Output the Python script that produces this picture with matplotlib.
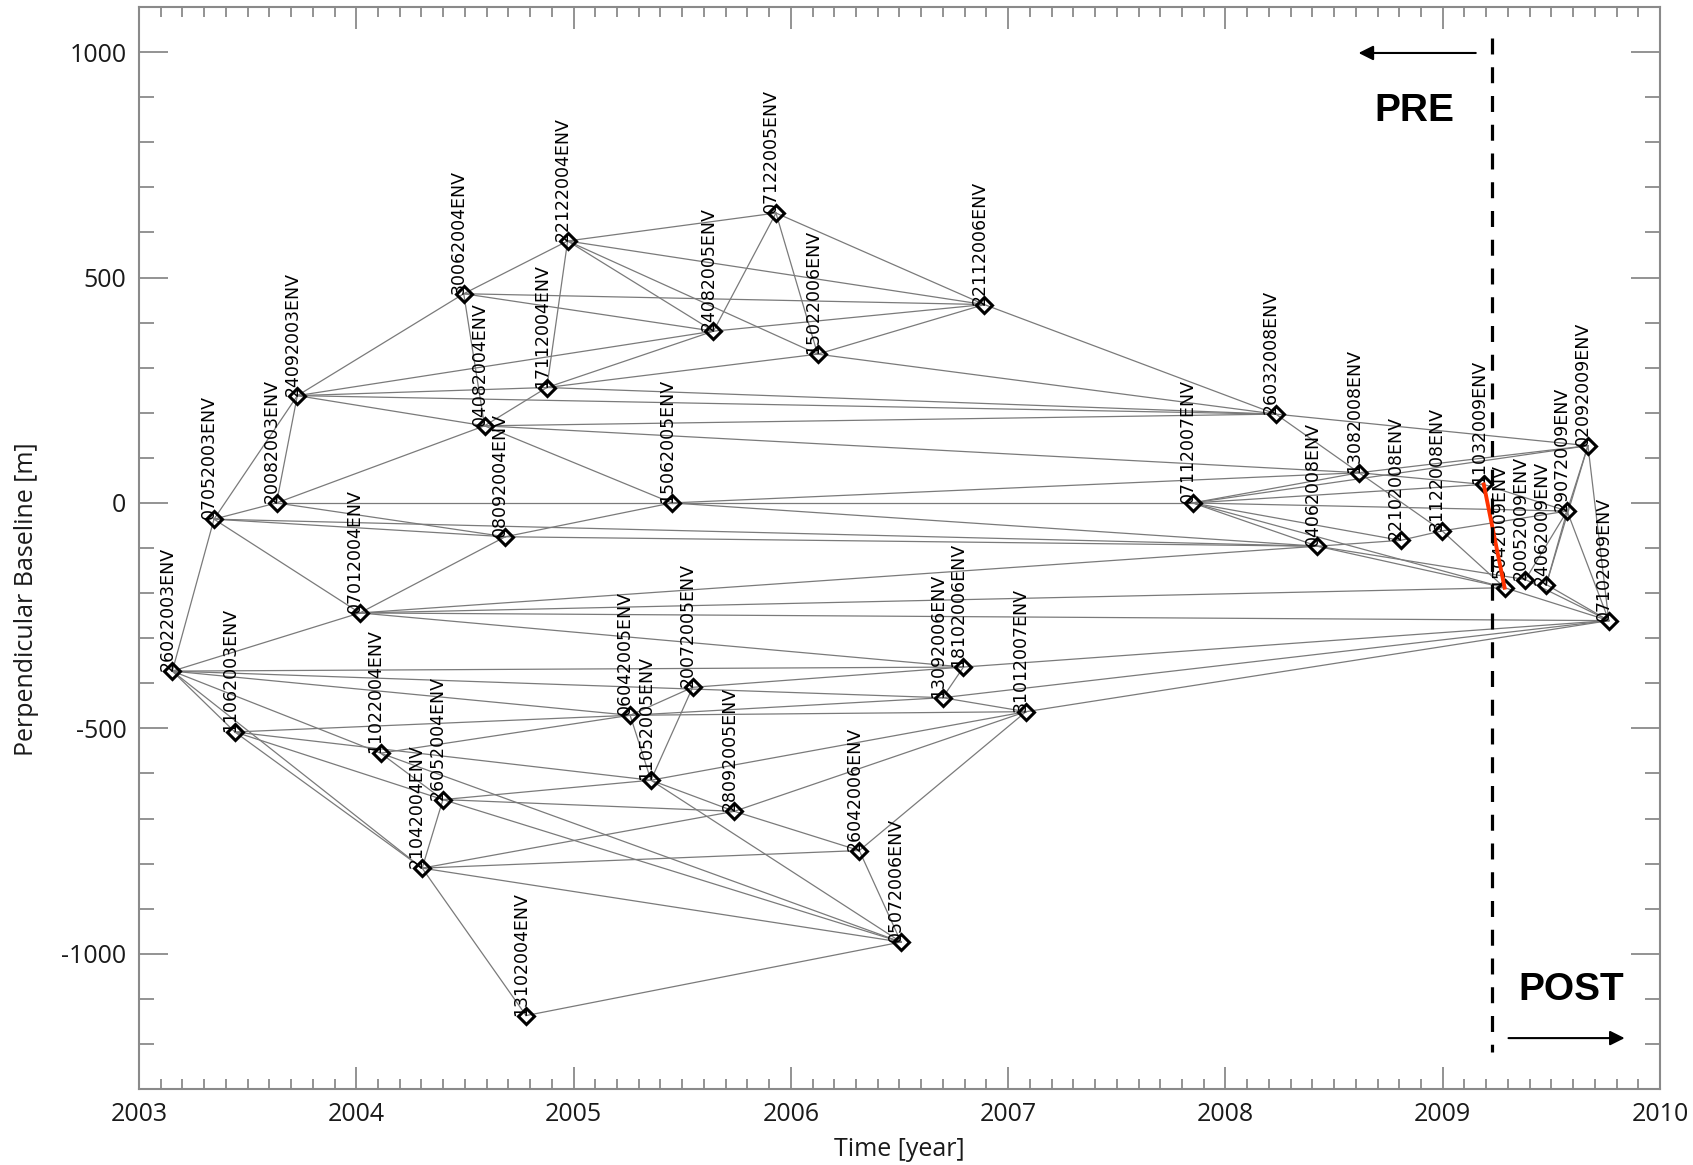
import datetime as dt
import matplotlib
matplotlib.use('Agg')
import matplotlib.pyplot as plt
from matplotlib.ticker import MultipleLocator, FormatStrFormatter

# acquisitions (ddmmyyyy) and perpendicular baseline [m]
dates = ["26022003", "07052003", "11062003", "20082003", "24092003", "07012004",
         "11022004", "21042004", "26052004", "30062004", "04082004", "08092004",
         "13102004", "17112004", "22122004", "06042005", "11052005", "15062005",
         "20072005", "24082005", "28092005", "07122005", "15022006", "26042006",
         "05072006", "13092006", "18102006", "22112006", "31012007", "07112007",
         "26032008", "04062008", "13082008", "22102008", "31122008", "11032009",
         "15042009", "20052009", "24062009", "29072009", "02092009", "07102009"]
baselines = [-373, -36, -508, 0, 238, -244,
             -555, -810, -658, 464, 171, -75,
             -1137, 256, 581, -471, -615, 0,
             -409, 381, -684, 643, 330, -771,
             -974, -432, -364, 440, -463, 0,
             197, -96, 67, -83, -62, 41,
             -188, -170, -181, -18, 127, -261]

# interferometric pairs
edges = [
    ("26022003", "07052003"), ("26022003", "11062003"), ("26022003", "07012004"),
    ("26022003", "11022004"), ("26022003", "21042004"), ("26022003", "06042005"),
    ("26022003", "13092006"), ("26022003", "18102006"),
    ("07052003", "20082003"), ("07052003", "24092003"), ("07052003", "07012004"),
    ("07052003", "08092004"), ("07052003", "04062008"),
    ("11062003", "06042005"), ("11062003", "11052005"), ("11062003", "26052004"),
    ("11062003", "21042004"),
    ("20082003", "24092003"), ("20082003", "04082004"), ("20082003", "08092004"),
    ("20082003", "15062005"),
    ("24092003", "30062004"), ("24092003", "04082004"), ("24092003", "17112004"),
    ("24092003", "24082005"), ("24092003", "26032008"),
    ("07012004", "08092004"), ("07012004", "04062008"), ("07012004", "15042009"),
    ("07012004", "07102009"), ("07012004", "18102006"),
    ("11022004", "06042005"), ("11022004", "26052004"), ("11022004", "05072006"),
    ("21042004", "26052004"), ("21042004", "13102004"), ("21042004", "28092005"),
    ("21042004", "26042006"), ("21042004", "05072006"),
    ("26052004", "11052005"), ("26052004", "28092005"), ("26052004", "05072006"),
    ("30062004", "04082004"), ("30062004", "22122004"), ("30062004", "24082005"),
    ("30062004", "22112006"),
    ("04082004", "17112004"), ("04082004", "15062005"), ("04082004", "26032008"),
    ("04082004", "13082008"),
    ("08092004", "15062005"), ("08092004", "04062008"),
    ("13102004", "05072006"),
    ("17112004", "22122004"), ("17112004", "24082005"), ("17112004", "15022006"),
    ("17112004", "26032008"),
    ("22122004", "07122005"), ("22122004", "24082005"), ("22122004", "15022006"),
    ("22122004", "22112006"),
    ("06042005", "20072005"), ("06042005", "11052005"), ("06042005", "13092006"),
    ("06042005", "31012007"),
    ("11052005", "20072005"), ("11052005", "28092005"), ("11052005", "05072006"),
    ("11052005", "31012007"),
    ("15062005", "07112007"), ("15062005", "04062008"), ("15062005", "13082008"),
    ("20072005", "18102006"),
    ("24082005", "07122005"), ("24082005", "22112006"),
    ("28092005", "26042006"), ("28092005", "31012007"),
    ("07122005", "15022006"), ("07122005", "22112006"),
    ("15022006", "22112006"), ("15022006", "26032008"),
    ("26042006", "05072006"), ("26042006", "31012007"),
    ("13092006", "18102006"), ("13092006", "31012007"), ("13092006", "07102009"),
    ("18102006", "07102009"),
    ("22112006", "26032008"),
    ("31012007", "07102009"),
    ("07112007", "04062008"), ("07112007", "13082008"), ("07112007", "22102008"),
    ("07112007", "11032009"), ("07112007", "15042009"), ("07112007", "29072009"),
    ("07112007", "02092009"),
    ("26032008", "13082008"), ("26032008", "02092009"),
    ("04062008", "22102008"), ("04062008", "15042009"), ("04062008", "20052009"),
    ("13082008", "31122008"), ("13082008", "11032009"), ("13082008", "02092009"),
    ("22102008", "31122008"),
    ("31122008", "15042009"), ("31122008", "29072009"),
    ("11032009", "29072009"),
    ("15042009", "07102009"),
    ("20052009", "29072009"), ("20052009", "07102009"),
    ("24062009", "29072009"), ("24062009", "02092009"), ("24062009", "07102009"),
    ("29072009", "02092009"), ("29072009", "07102009"),
    ("02092009", "07102009"),
]
red_edge = ("11032009", "15042009")
event_year = 2009.225


def decimal_year(s):
    d = dt.datetime.strptime(s, "%d%m%Y")
    start = dt.datetime(d.year, 1, 1)
    n = (dt.datetime(d.year + 1, 1, 1) - start).days
    return d.year + (d - start).days / n


plt.rcParams['axes.unicode_minus'] = False

xs = {d: decimal_year(d) for d in dates}
ys = dict(zip(dates, baselines))

fig = plt.figure(figsize=(16.93, 11.65), dpi=100)
ax = fig.add_axes([0.0821, 0.0652, 0.8984, 0.9288])

for a, b in edges:
    ax.plot([xs[a], xs[b]], [ys[a], ys[b]], color='#7a7a7a', lw=0.9, zorder=1)

ax.plot([xs[red_edge[0]], xs[red_edge[1]]], [ys[red_edge[0]], ys[red_edge[1]]],
        color='#ff3300', lw=2.8, zorder=5)

ax.plot([xs[d] for d in dates], baselines, 'D', ms=8.5, mfc='none', mec='k',
        mew=2.2, zorder=4)

for d in dates:
    ax.text(xs[d], ys[d], d + 'ENV', rotation=90, rotation_mode='anchor',
            ha='left', va='baseline', fontsize=12.5, family='DejaVu Sans', zorder=3)

# pre / post event divider
ax.plot([event_year, event_year], [1031, -1218], color='k', lw=2.3,
        dashes=(5, 4), zorder=6)
ax.annotate('', xy=(2008.60, 998), xytext=(2009.165, 998),
            arrowprops=dict(arrowstyle='-|>', color='k', lw=1.5, mutation_scale=22))
ax.annotate('', xy=(2009.85, -1187), xytext=(2009.29, -1187),
            arrowprops=dict(arrowstyle='-|>', color='k', lw=1.5, mutation_scale=22))
ax.text(2008.87, 870, 'PRE', fontsize=28, fontweight='bold',
        family='Liberation Sans', ha='center', va='center')
ax.text(2009.59, -1080, 'POST', fontsize=28, fontweight='bold',
        family='Liberation Sans', ha='center', va='center')

ax.set_xlim(2003, 2010)
ax.set_ylim(-1300, 1100)
ax.xaxis.set_major_locator(MultipleLocator(1))
ax.xaxis.set_minor_locator(MultipleLocator(0.1))
ax.yaxis.set_major_locator(MultipleLocator(500))
ax.yaxis.set_minor_locator(MultipleLocator(100))
ax.xaxis.set_major_formatter(FormatStrFormatter('%d'))
ax.yaxis.set_major_formatter(FormatStrFormatter('%d'))

for sp in ax.spines.values():
    sp.set_color('#8a8a8a')
    sp.set_linewidth(1.5)
ax.tick_params(axis='both', which='both', direction='in', top=True, right=True,
               color='#8a8a8a', width=1.3, labelsize=18, labelcolor='#1a1a1a', pad=9)
ax.tick_params(axis='x', which='major', length=16)
ax.tick_params(axis='x', which='minor', length=7.5)
ax.tick_params(axis='y', which='major', length=21)
ax.tick_params(axis='y', which='minor', length=10.5)
for lab in ax.get_xticklabels() + ax.get_yticklabels():
    lab.set_family(['Open Sans', 'DejaVu Sans'])

ax.set_xlabel('Time [year]', fontsize=18, family=['Open Sans', 'DejaVu Sans'],
              color='#1a1a1a')
ax.set_ylabel('Perpendicular Baseline [m]', fontsize=18,
              family=['Open Sans', 'DejaVu Sans'], color='#1a1a1a')
ax.xaxis.set_label_coords(0.5, -0.044)
ax.yaxis.set_label_coords(-0.066, 0.453)

fig.savefig('out.png', dpi=100)
